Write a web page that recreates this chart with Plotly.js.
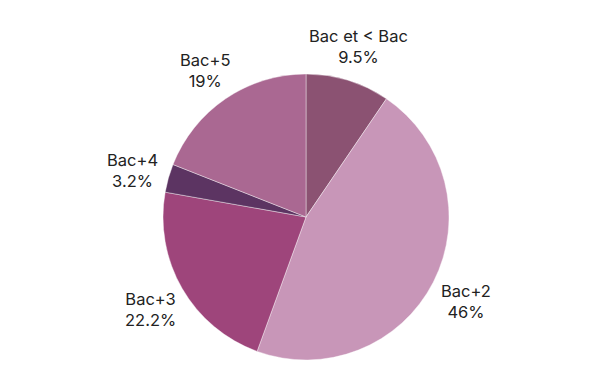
<!DOCTYPE html>
<html><head><meta charset="utf-8">
<script src="https://cdn.plot.ly/plotly-3.0.1.min.js"></script>
<style>html,body{margin:0;padding:0;background:#fff}#chart{width:600px;height:381px}</style>
</head><body><div id="chart"></div>
<script>
const labels = ["Bac et < Bac", "Bac+2", "Bac+3", "Bac+4", "Bac+5"];
const values = [9.5, 46, 22.2, 3.2, 19];
const colors = ["#8b5272", "#c896b8", "#9e457b", "#5c3462", "#aa6892"];

const W = 600, H = 381;
const cx = 306, cy = 217, R = 143, labelR = 180;
const total = values.reduce((a, b) => a + b, 0);
let cum = 0;
const annotations = labels.map((lab, i) => {
  const mid = (cum + values[i] / 2) / total * 2 * Math.PI;
  cum += values[i];
  return {
    x: cx / W, y: 1 - cy / H, xref: "paper", yref: "paper",
    xshift: labelR * Math.sin(mid), yshift: labelR * Math.cos(mid) - 2,
    text: lab + "<br>" + values[i] + "%",
    showarrow: false, xanchor: "center", yanchor: "middle", align: "center",
    font: {family: "Inter", size: 16.5, color: "#222"}
  };
});

Plotly.newPlot("chart", [{
  type: "pie",
  labels: labels,
  values: values,
  sort: false,
  direction: "clockwise",
  rotation: 0,
  marker: {colors: colors, line: {color: "rgba(255,255,255,0.4)", width: 1}},
  textinfo: "none",
  hoverinfo: "label+percent",
  showlegend: false,
  automargin: false,
  domain: {x: [(cx - R) / W, (cx + R) / W], y: [1 - (cy + R) / H, 1 - (cy - R) / H]}
}], {
  width: W, height: H,
  margin: {l: 0, r: 0, t: 0, b: 0},
  paper_bgcolor: "#fff",
  showlegend: false,
  annotations: annotations
}, {displayModeBar: false, staticPlot: true});
</script></body></html>
